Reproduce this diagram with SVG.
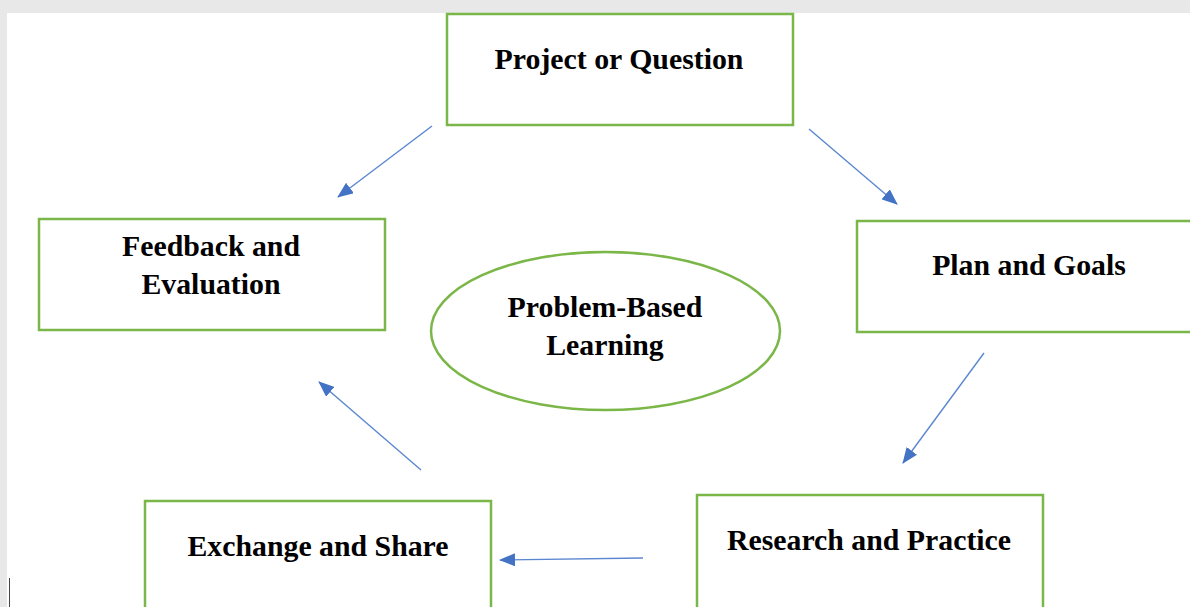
<svg xmlns="http://www.w3.org/2000/svg" width="1190" height="607" viewBox="0 0 1190 607">
<style>
.box{fill:#fff;stroke:#7ab648;stroke-width:2.5}
.t{font-family:"Liberation Serif","Times New Roman",serif;font-weight:bold;font-size:29.8px;fill:#000;text-anchor:middle}
.c{stroke:#5b87d0;stroke-width:1.4;fill:none;marker-end:url(#ah)}
</style>
<defs>
<marker id="ah" viewBox="0 0 16 13" refX="15" refY="6.5" markerWidth="16" markerHeight="13" markerUnits="userSpaceOnUse" orient="auto">
<path d="M0,0 L16,6.5 L0,13 Z" fill="#4472c4"/>
</marker>
</defs>
<rect x="0" y="0" width="1190" height="607" fill="#e8e8e8"/>
<rect x="7" y="13" width="1183" height="594" fill="#fff"/>
<line x1="9.5" y1="578" x2="9.5" y2="607" stroke="#444" stroke-width="1"/>
<g id="project">
<rect class="box" x="447" y="14" width="346" height="111"/>
<text class="t" x="619" y="69">Project or Question</text>
</g>
<g id="feedback">
<rect class="box" x="39" y="219" width="346" height="111"/>
<text class="t" x="211" y="256">Feedback and</text>
<text class="t" x="211" y="294">Evaluation</text>
</g>
<g id="plan">
<rect class="box" x="857" y="221" width="346" height="111"/>
<text class="t" x="1029" y="275">Plan and Goals</text>
</g>
<g id="research">
<rect class="box" x="697" y="495" width="346" height="120"/>
<text class="t" x="869" y="550">Research and Practice</text>
</g>
<g id="exchange">
<rect class="box" x="145" y="501" width="346" height="120"/>
<text class="t" x="318" y="556">Exchange and Share</text>
</g>
<g id="pbl">
<ellipse class="box" cx="605.5" cy="331" rx="174.5" ry="79"/>
<text class="t" x="605" y="317">Problem-Based</text>
<text class="t" x="605" y="355">Learning</text>
</g>
<g id="connectors">
<line class="c" x1="432" y1="126" x2="338" y2="197"/>
<line class="c" x1="809" y1="129" x2="897" y2="204"/>
<line class="c" x1="984" y1="353" x2="903" y2="463"/>
<line class="c" x1="643" y1="558" x2="500" y2="560"/>
<line class="c" x1="421" y1="470" x2="319" y2="382"/>
</g>
</svg>
